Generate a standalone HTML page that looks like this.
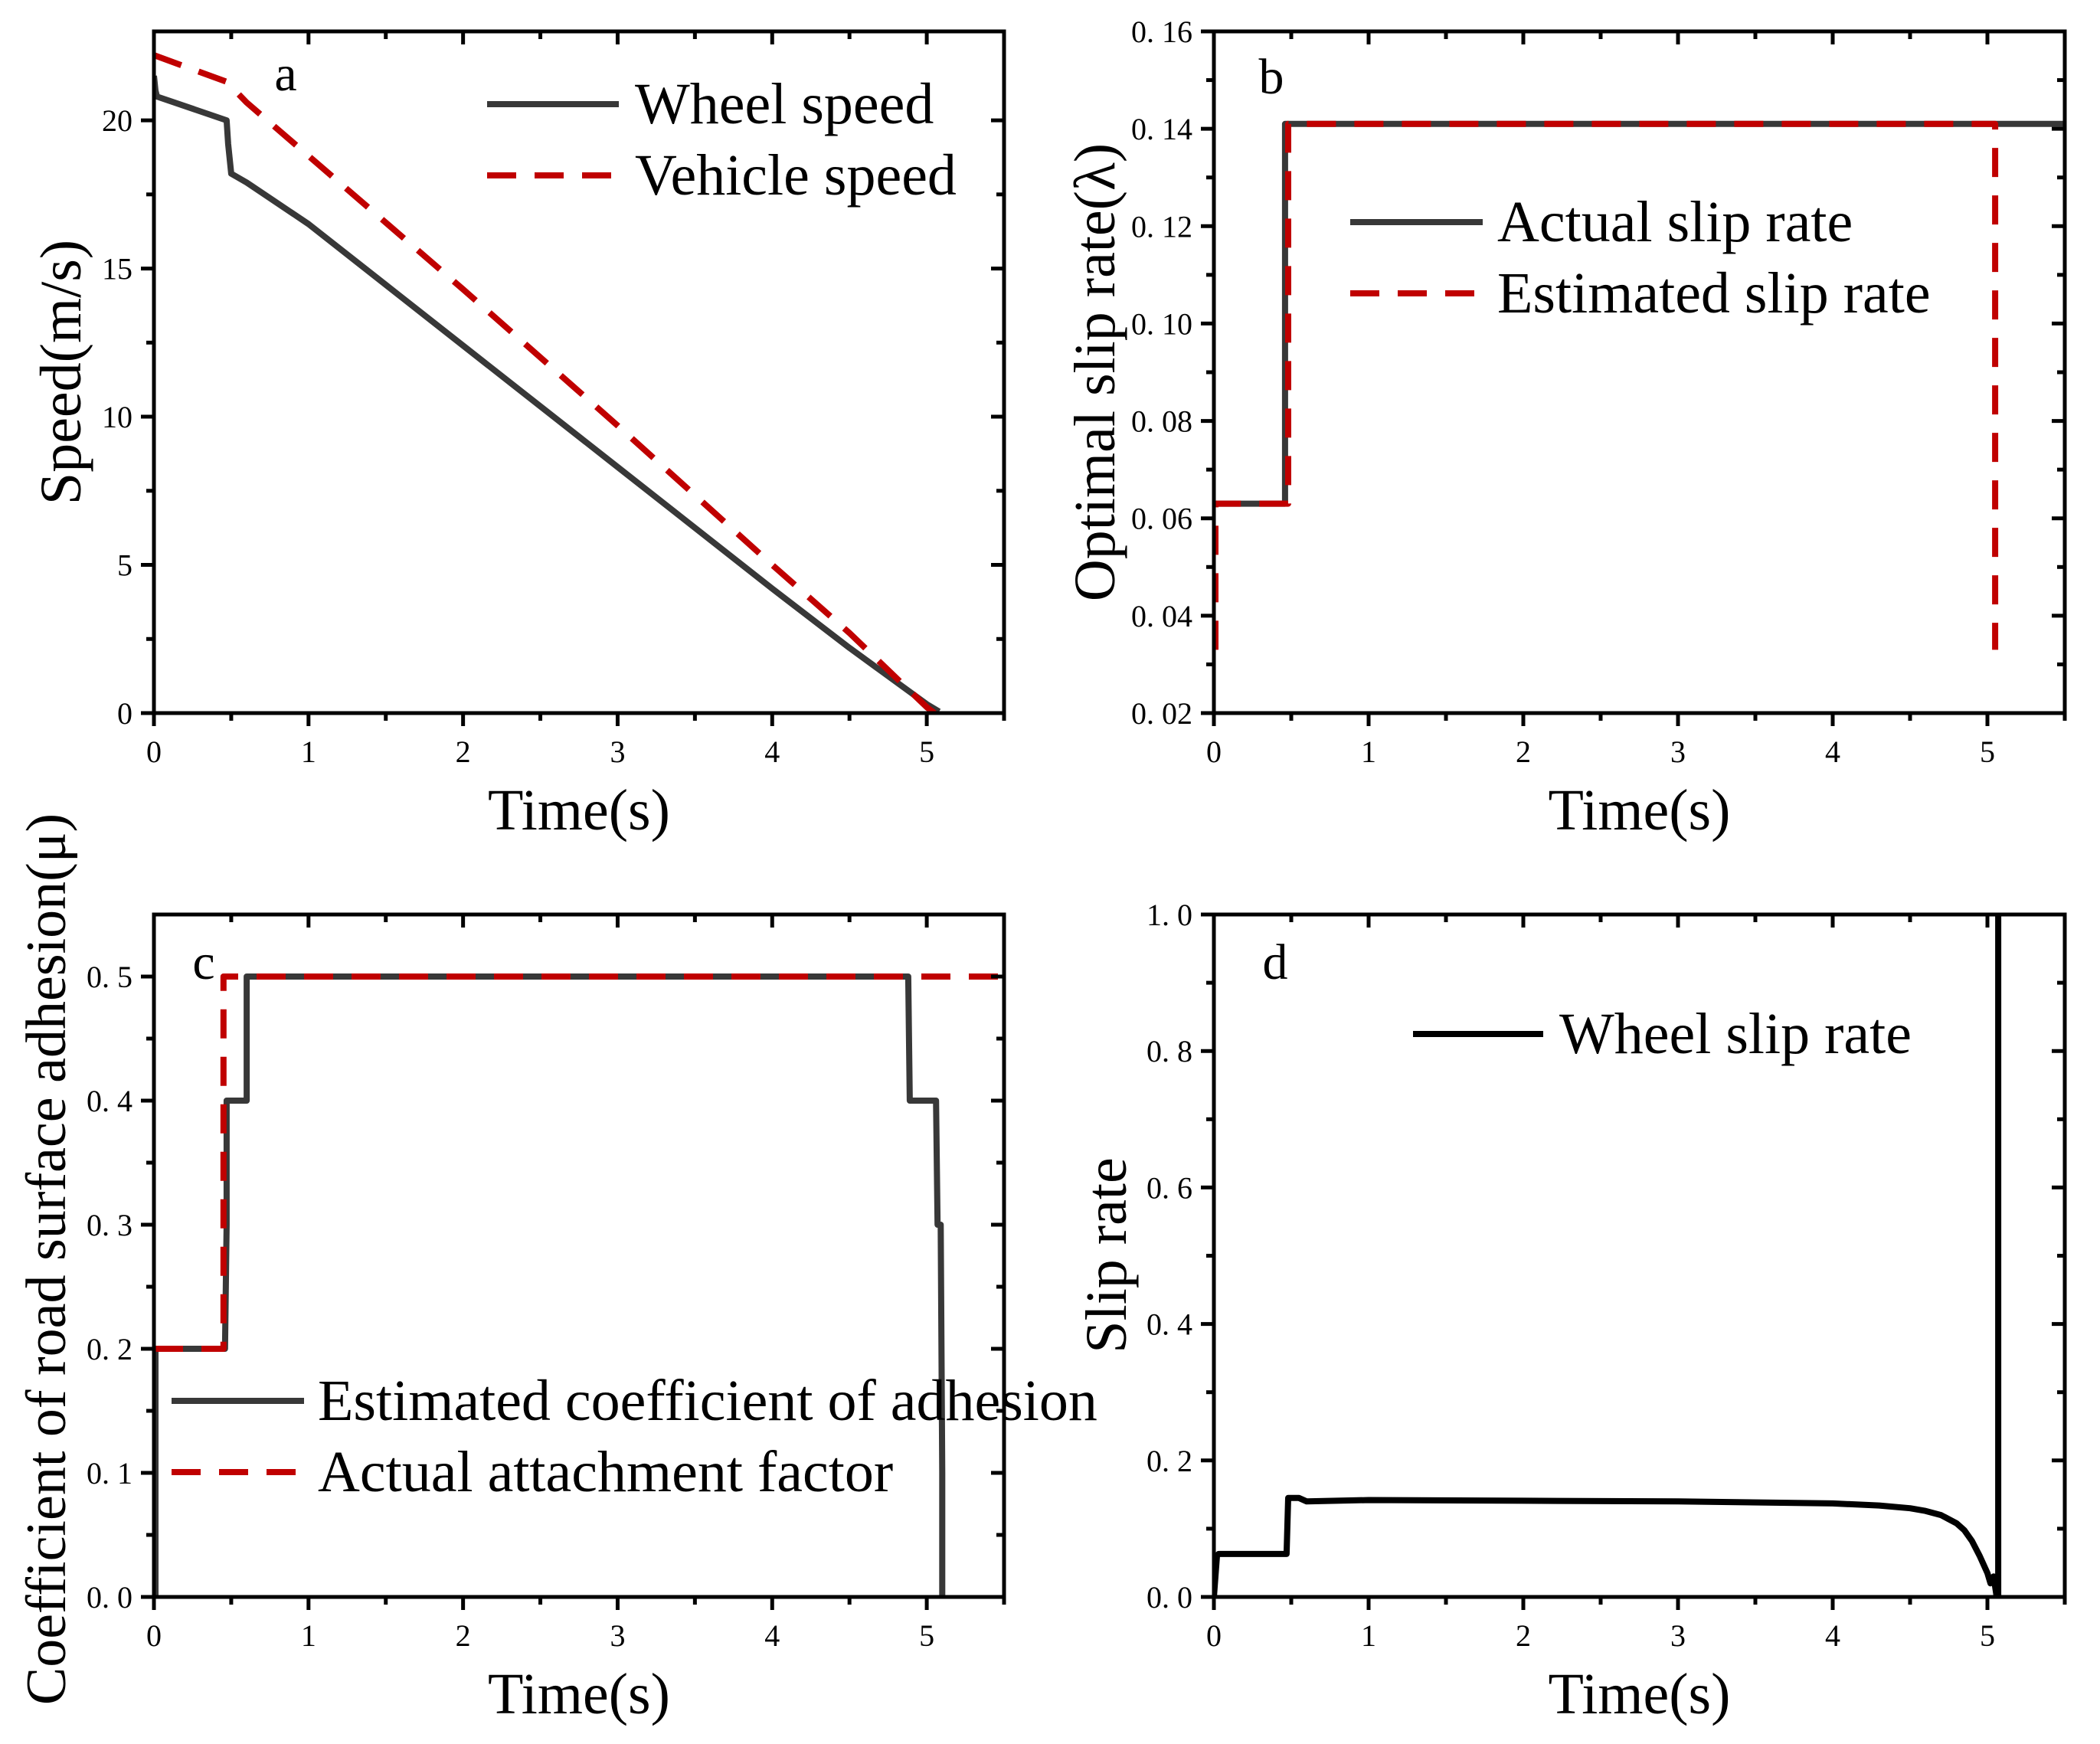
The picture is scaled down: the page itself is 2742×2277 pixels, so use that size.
<!DOCTYPE html>
<html><head><meta charset="utf-8"><style>
html,body{margin:0;padding:0;background:#fff;}
svg{display:block;font-family:"Liberation Serif",serif;}
</style></head><body>
<svg id="fig" width="2742" height="2277" viewBox="0 0 2742 2277" xmlns="http://www.w3.org/2000/svg"></svg>
<script>
// ---- data ----
const aWheelT = [0,0.01,0.02,0.47,0.48,0.5,0.6,1,2,3,4,4.5,5,5.08];
const aWheelV = [21.5,21.0,20.8,20.0,19.2,18.2,17.9,16.5,12.4,8.3,4.2,2.2,0.3,0.05];
const aVehT = [0,0.47,0.6,1,2,3,4,4.5,5,5.05];
const aVehV = [22.2,21.3,20.6,18.8,14.3,9.7,5.0,2.7,0.2,0];
const bActT = [0,0.46,0.46,5.5];
const bActV = [0.063,0.063,0.141,0.141];
const bEstT = [0.01,0.01,0.48,0.48,5.05,5.05];
const bEstV = [0.033,0.063,0.063,0.141,0.141,0.033];
const cEstT = [0.01,0.01,0.46,0.47,0.47,0.6,0.6,4.88,4.89,5.06,5.07,5.09,5.1,5.1];
const cEstV = [0,0.2,0.2,0.3,0.4,0.4,0.5,0.5,0.4,0.4,0.3,0.3,0.1,0];
const cActT = [0,0.45,0.45,5.5];
const cActV = [0.2,0.2,0.5,0.5];
const dT = [0,0.02,0.03,0.47,0.48,0.55,0.6,1,2,3,4,4.3,4.5,4.6,4.7,4.8,4.85,4.9,4.95,5.0,5.02,5.04,5.06,5.07,5.07];
const dV = [0,0.06,0.063,0.063,0.145,0.145,0.14,0.142,0.141,0.14,0.137,0.134,0.13,0.126,0.12,0.108,0.098,0.082,0.06,0.035,0.02,0.03,0,0,1.0];
const xTicks = [0,1,2,3,4,5];
const aYTicks = [0,5,10,15,20];
const bYTicks = [0.02,0.04,0.06,0.08,0.10,0.12,0.14,0.16];
const cYTicks = [0,0.1,0.2,0.3,0.4,0.5];
const dYTicks = [0,0.2,0.4,0.6,0.8,1.0];

const NS="http://www.w3.org/2000/svg";
const svg=document.getElementById('fig');
function mk(tag,attrs,parent){const e=document.createElementNS(NS,tag);for(const k in attrs)e.setAttribute(k,attrs[k]);(parent||svg).appendChild(e);return e;}

function panel(p){
  const g=mk('g',{});
  
  
  const sx=v=>p.L+(v-0)/(5.5)*(p.R-p.L);
  const sy=v=>p.B-(v-p.y0)/(p.y1-p.y0)*(p.B-p.T);
  const clipId='clip'+p.id;
  const cp=mk('clipPath',{id:clipId},g);mk('rect',{x:p.L,y:p.T-2,width:p.R-p.L,height:p.B-p.T+4},cp);
  p.series.forEach(s=>{
    let d='';s.t.forEach((t,i)=>{d+=(i?'L':'M')+sx(t).toFixed(1)+' '+sy(s.v[i]).toFixed(1);});
    const path=mk('path',{d:d,fill:'none',stroke:s.color,'stroke-width':8,'stroke-linejoin':'round','clip-path':'url(#'+clipId+')'},g);
    if(s.dash)path.setAttribute('stroke-dasharray','38 24');
    
    
  });
  const fr=mk('rect',{x:p.L,y:p.T,width:p.R-p.L,height:p.B-p.T,fill:'none',stroke:'#000','stroke-width':5},g);
  
  
  for(let i=0;i<=11;i++){const v=i*0.5;const x=sx(v);const maj=i%2===0;
    mk('line',{x1:x,y1:p.B,x2:x,y2:p.B+(maj?17:10),stroke:'#000','stroke-width':5},g);
    mk('line',{x1:x,y1:p.T,x2:x,y2:p.T+(maj?17:10),stroke:'#000','stroke-width':5},g);}
  xTicks.forEach(v=>{const t=mk('text',{x:sx(v),y:p.B+64,'font-size':40,'text-anchor':'middle'},g);t.textContent=String(v);
    
    });
  const n=p.yT.length;const step=p.yT[1]-p.yT[0];
  for(let i=0;i<(n-1)*2+1;i++){const v=p.yT[0]+i*step/2;if(v>p.y1+1e-9)break;const y=sy(v);const maj=i%2===0;
    mk('line',{x1:p.L,y1:y,x2:p.L-(maj?17:10),y2:y,stroke:'#000','stroke-width':5},g);
    mk('line',{x1:p.R,y1:y,x2:p.R-(maj?17:10),y2:y,stroke:'#000','stroke-width':5},g);}
  if(p.extraMinor){const v=p.yT[n-1]+step/2;if(v<=p.y1){const y=sy(v);mk('line',{x1:p.L,y1:y,x2:p.L-10,y2:y,stroke:'#000','stroke-width':5},g);mk('line',{x1:p.R,y1:y,x2:p.R-10,y2:y,stroke:'#000','stroke-width':5},g);}}
  p.yT.forEach(v=>{const t=mk('text',{x:p.L-28,y:sy(v)+14,'font-size':40,'text-anchor':'end'},g);t.textContent=p.fmt(v);
    
    });
  const xt=mk('text',{x:(p.L+p.R)/2,y:p.B+152,'font-size':76,'text-anchor':'middle'},g);xt.textContent='Time(s)';
  
  
  const yt=mk('text',{x:0,y:0,'font-size':p.ytfs||76,'text-anchor':'middle',transform:'translate('+p.ytx+','+p.yty+') rotate(-90)'},g);yt.textContent=p.ytitle;
  
  
  const lt=mk('text',{x:p.letter[0],y:p.letter[1],'font-size':66,'text-anchor':'middle'},g);lt.textContent=p.id;
  
  
  p.legend.forEach(l=>{
    const ln=mk('line',{x1:l.x1,y1:l.y,x2:l.x2,y2:l.y,stroke:l.color,'stroke-width':8},g);
    if(l.dash)ln.setAttribute('stroke-dasharray','38 24');
    
    
    const tx=mk('text',{x:l.tx,y:l.y+25,'font-size':76},g);tx.textContent=l.text;
    
    
  });
}
const GRAY='#383838',RED='#c00000';
const f2=v=>v.toFixed(2).replace('.','. ');
const f1=v=>v.toFixed(1).replace('.','. ');
panel({id:'a',L:201,R:1311,T:41,B:931,y0:0,y1:23,yT:aYTicks,fmt:v=>String(v),ytitle:'Speed(m/s)',ytx:105,yty:486,letter:[373,118],
  series:[{t:aWheelT,v:aWheelV,color:GRAY,name:'wheel-speed-line'},{t:aVehT,v:aVehV,color:RED,dash:true,name:'vehicle-speed-line'}],
  legend:[{x1:636,x2:808,y:136,color:GRAY,tx:829,text:'Wheel speed'},{x1:636,x2:808,y:229,color:RED,dash:true,tx:829,text:'Vehicle speed'}]});
panel({id:'b',L:1585,R:2696,T:41,B:931,y0:0.02,y1:0.16,yT:bYTicks,fmt:f2,ytitle:'Optimal slip rate(λ)',ytx:1455,yty:486,letter:[1660,122],
  series:[{t:bActT,v:bActV,color:GRAY,name:'actual-slip-line'},{t:bEstT,v:bEstV,color:RED,dash:true,name:'estimated-slip-line'}],
  legend:[{x1:1763,x2:1936,y:290,color:GRAY,tx:1955,text:'Actual slip rate'},{x1:1763,x2:1936,y:383,color:RED,dash:true,tx:1955,text:'Estimated slip rate'}]});
panel({id:'c',L:201,R:1311,T:1194,B:2085,y0:0,y1:0.55,yT:cYTicks,fmt:f1,ytitle:'Coefficient of road surface adhesion(μ)',ytfs:74,ytx:85,yty:1644,letter:[266,1278],
  series:[{t:cEstT,v:cEstV,color:GRAY,name:'estimated-adhesion-line'},{t:cActT,v:cActV,color:RED,dash:true,name:'actual-attachment-line'}],
  legend:[{x1:224,x2:397,y:1829,color:GRAY,tx:415,text:'Estimated coefficient of adhesion'},{x1:224,x2:397,y:1922,color:RED,dash:true,tx:415,text:'Actual attachment factor'}]});
panel({id:'d',L:1585,R:2696,T:1194,B:2085,y0:0,y1:1.0,yT:dYTicks,fmt:f1,ytitle:'Slip rate',ytx:1470,yty:1639,letter:[1665,1278],
  series:[{t:dT,v:dV,color:'#000',name:'wheel-slip-line'}],
  legend:[{x1:1845,x2:2015,y:1350,color:'#000',tx:2036,text:'Wheel slip rate'}]});
</script>
</body></html>
